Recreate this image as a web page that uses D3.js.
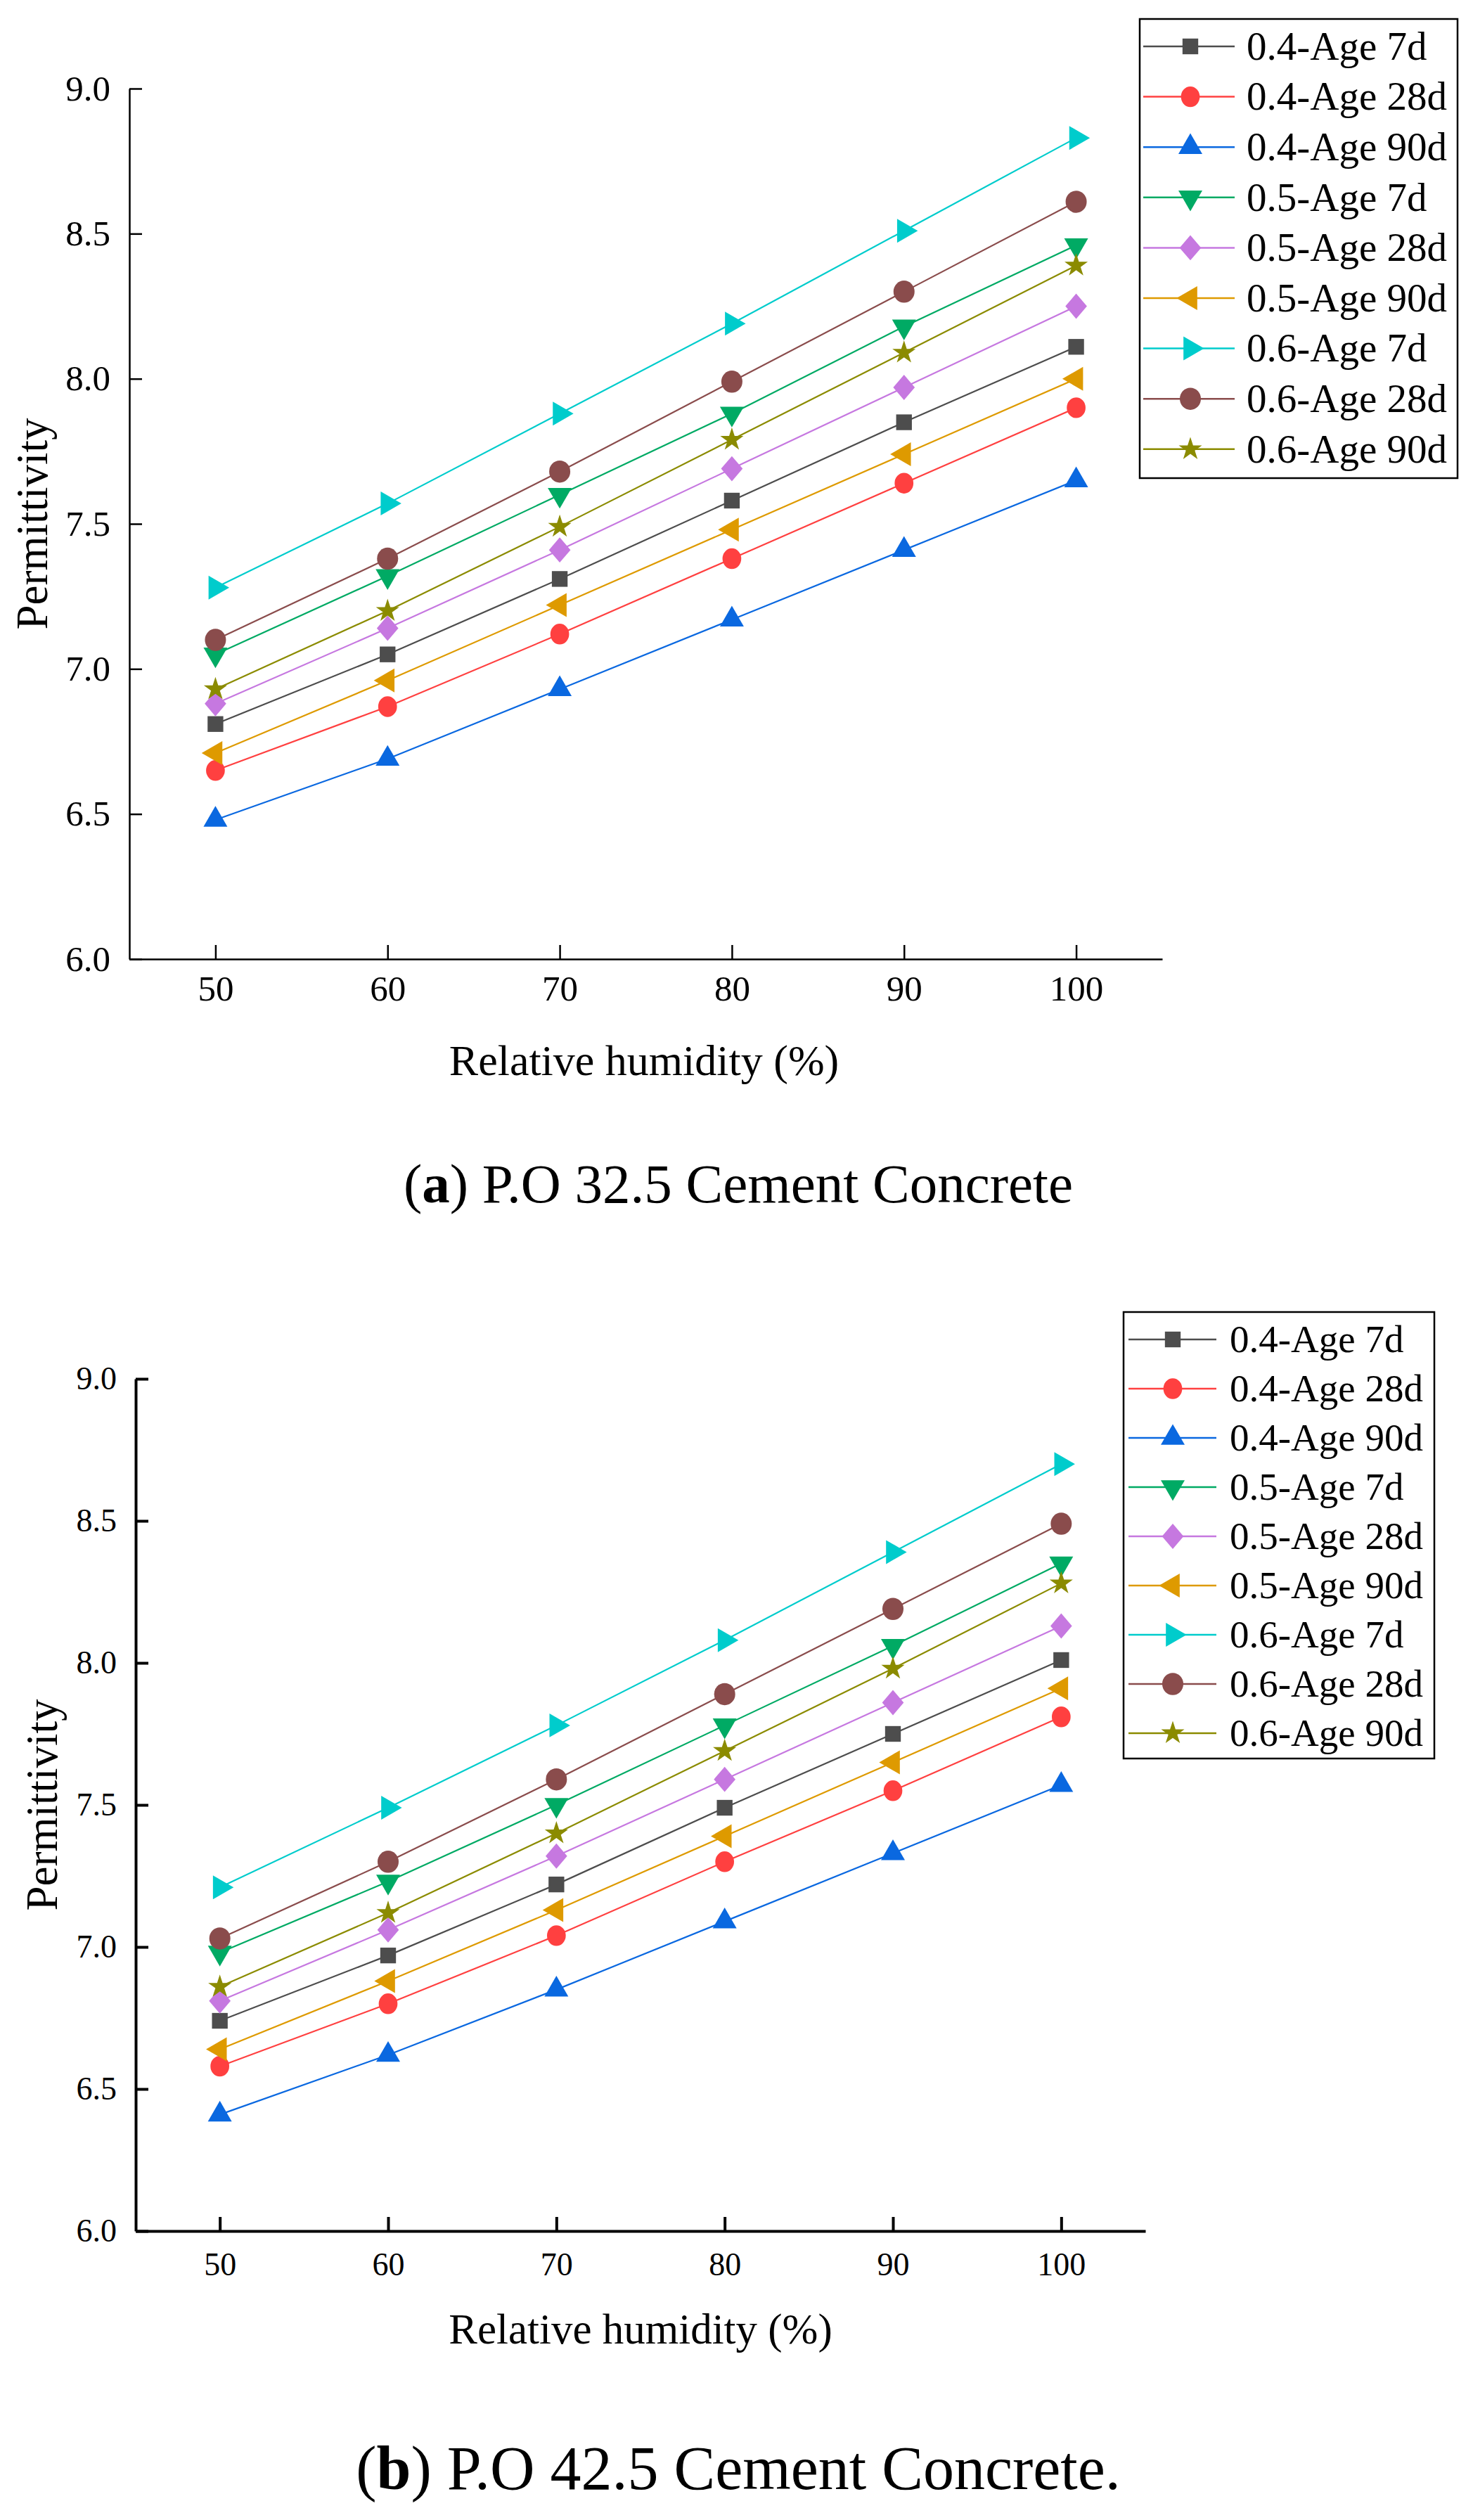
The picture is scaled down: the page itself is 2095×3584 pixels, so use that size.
<!DOCTYPE html>
<html>
<head>
<meta charset="utf-8">
<script src="https://cdn.jsdelivr.net/npm/d3@7"></script>
<style>
  body { margin: 0; background: #fff; }
  svg, svg text { font-family: "Liberation Serif", "DejaVu Serif", serif !important; fill: #000; }
</style>
</head>
<body>
<div id="chart"></div>
<script>
const humidity = [50, 60, 70, 80, 90, 100]
const xTicks = [50, 60, 70, 80, 90, 100]
const yTicks = [6.0, 6.5, 7.0, 7.5, 8.0, 8.5, 9.0]
const seriesLabels = [
  '0.4-Age 7d', '0.4-Age 28d', '0.4-Age 90d',
  '0.5-Age 7d', '0.5-Age 28d', '0.5-Age 90d',
  '0.6-Age 7d', '0.6-Age 28d', '0.6-Age 90d'
]

// (a) P.O 32.5 cement concrete
const a_w04_7d = [6.81, 7.05, 7.31, 7.58, 7.85, 8.11]
const a_w04_28d = [6.65, 6.87, 7.12, 7.38, 7.64, 7.90]
const a_w04_90d = [6.48, 6.69, 6.93, 7.17, 7.41, 7.65]
const a_w05_7d = [7.05, 7.32, 7.60, 7.88, 8.18, 8.46]
const a_w05_28d = [6.88, 7.14, 7.41, 7.69, 7.97, 8.25]
const a_w05_90d = [6.71, 6.96, 7.22, 7.48, 7.74, 8.00]
const a_w06_7d = [7.28, 7.57, 7.88, 8.19, 8.51, 8.83]
const a_w06_28d = [7.10, 7.38, 7.68, 7.99, 8.30, 8.61]
const a_w06_90d = [6.93, 7.20, 7.49, 7.79, 8.09, 8.39]

// (b) P.O 42.5 cement concrete
const b_w04_7d = [6.74, 6.97, 7.22, 7.49, 7.75, 8.01]
const b_w04_28d = [6.58, 6.80, 7.04, 7.30, 7.55, 7.81]
const b_w04_90d = [6.41, 6.62, 6.85, 7.09, 7.33, 7.57]
const b_w05_7d = [6.98, 7.23, 7.50, 7.78, 8.06, 8.35]
const b_w05_28d = [6.81, 7.06, 7.32, 7.59, 7.86, 8.13]
const b_w05_90d = [6.64, 6.88, 7.13, 7.39, 7.65, 7.91]
const b_w06_7d = [7.21, 7.49, 7.78, 8.08, 8.39, 8.70]
const b_w06_28d = [7.03, 7.30, 7.59, 7.89, 8.19, 8.49]
const b_w06_90d = [6.86, 7.12, 7.40, 7.69, 7.98, 8.28]

const colors = ['#4d4d4d', '#ff4040', '#0a68e0', '#00aa64', '#c678e0',
  '#de9a00', '#00cccc', '#8a4c4c', '#8b8b00']

const markers = [
  { type: d3.symbolSquare, size: 500, rotate: 0, sy: 1 },
  { type: d3.symbolCircle, size: 560, rotate: 0, sy: 1.1 },
  { type: d3.symbolTriangle, size: 500, rotate: 0, sy: 1 },
  { type: d3.symbolTriangle, size: 500, rotate: 180, sy: 1 },
  { type: d3.symbolDiamond2, size: 600, rotate: 0, sy: 1.17 },
  { type: d3.symbolTriangle, size: 500, rotate: -90, sy: 1 },
  { type: d3.symbolTriangle, size: 500, rotate: 90, sy: 1 },
  { type: d3.symbolCircle, size: 707, rotate: 0, sy: 1.05 },
  { type: d3.symbolStar, size: 340, rotate: 0, sy: 1 }
]

const panels = [
  {
    values: [a_w04_7d, a_w04_28d, a_w04_90d, a_w05_7d, a_w05_28d, a_w05_90d, a_w06_7d, a_w06_28d, a_w06_90d],
    left: 184, right: 1653, top: 126, bottom: 1364,
    axisWidth: 2.5, tickFont: 51, xPad: 23,
    yTitleX: 67, yTitleY: 745, xTitleX: 916, xTitleY: 1507, titleFont: 62,
    legend: { x0: 1621, y0: 27, x1: 2073, y1: 680, row0: 66, step: 71.6, lx0: 1626, lx1: 1756, mx: 1693, tx: 1773, font: 57 },
    caption: { x: 1050, y: 1684, font: 79, letter: 'a', rest: ') P.O 32.5 Cement Concrete' }
  },
  {
    values: [b_w04_7d, b_w04_28d, b_w04_90d, b_w05_7d, b_w05_28d, b_w05_90d, b_w06_7d, b_w06_28d, b_w06_90d],
    left: 193, right: 1629, top: 1961, bottom: 3173,
    axisWidth: 4, tickFont: 46, xPad: 30,
    yTitleX: 81, yTitleY: 2567, xTitleX: 911, xTitleY: 3312, titleFont: 61,
    legend: { x0: 1598, y0: 1866, x1: 2040, y1: 2501, row0: 1905, step: 70, lx0: 1605, lx1: 1730, mx: 1668, tx: 1749, font: 55 },
    caption: { x: 1050, y: 3511, font: 88, letter: 'b', rest: ') P.O 42.5 Cement Concrete.' }
  }
]

const serif = '"Liberation Serif", "DejaVu Serif", serif'

const svg = d3
  .select('#chart')
  .append('svg')
  .attr('width', 2095)
  .attr('height', 3584)
  .attr('font-family', serif)

svg.append('rect').attr('width', 2095).attr('height', 3584).attr('fill', '#fff')

function markerTransform(m, x, y) {
  return 'translate(' + x + ',' + y + ') rotate(' + m.rotate + ') scale(1,' + m.sy + ')'
}

panels.forEach(function(p) {
  const g = svg.append('g')

  const xPositionScale = d3.scaleLinear().domain([45, 105]).range([p.left, p.right])
  const yPositionScale = d3.scaleLinear().domain([6, 9]).range([p.bottom, p.top])

  // axes, ticks pointing inwards
  const xAxis = d3.axisBottom(xPositionScale)
    .tickValues(xTicks)
    .tickSizeInner(-20)
    .tickSizeOuter(0)
    .tickPadding(p.xPad)
  g.append('g')
    .attr('class', 'axis x-axis')
    .attr('transform', 'translate(0,' + p.bottom + ')')
    .call(xAxis)

  const yAxis = d3.axisLeft(yPositionScale)
    .tickValues(yTicks)
    .tickFormat(d3.format('.1f'))
    .tickSizeInner(-18)
    .tickSizeOuter(0)
    .tickPadding(27)
  g.append('g')
    .attr('class', 'axis y-axis')
    .attr('transform', 'translate(' + p.left + ',0)')
    .call(yAxis)

  g.selectAll('.axis').attr('font-family', serif).attr('font-size', null)
  g.selectAll('.axis path, .axis line')
    .attr('stroke', '#000')
    .attr('stroke-width', p.axisWidth)
  g.selectAll('.axis text')
    .attr('font-size', p.tickFont)
    .attr('font-family', serif)
    .attr('fill', '#000')

  // series
  const line = d3.line()
    .x((d, i) => xPositionScale(humidity[i]))
    .y(d => yPositionScale(d))

  p.values.forEach(function(vals, k) {
    g.append('path')
      .datum(vals)
      .attr('d', line)
      .attr('fill', 'none')
      .attr('stroke', colors[k])
      .attr('stroke-width', 2.2)
  })

  p.values.forEach(function(vals, k) {
    const m = markers[k]
    g.selectAll('.mk' + k)
      .data(vals)
      .enter()
      .append('path')
      .attr('class', 'mk' + k)
      .attr('d', d3.symbol(m.type, m.size))
      .attr('transform', (d, i) => markerTransform(m, xPositionScale(humidity[i]), yPositionScale(d)))
      .attr('fill', colors[k])
  })

  // axis titles
  g.append('text')
    .text('Relative humidity (%)')
    .attr('x', p.xTitleX)
    .attr('y', p.xTitleY)
    .attr('dy', '0.35em')
    .attr('text-anchor', 'middle')
    .attr('font-family', serif)
    .attr('font-size', p.titleFont)

  g.append('text')
    .text('Permittivity')
    .attr('transform', 'translate(' + p.yTitleX + ',' + p.yTitleY + ') rotate(-90)')
    .attr('text-anchor', 'middle')
    .attr('font-family', serif)
    .attr('font-size', 63)

  // legend
  const L = p.legend
  g.append('rect')
    .attr('x', L.x0)
    .attr('y', L.y0)
    .attr('width', L.x1 - L.x0)
    .attr('height', L.y1 - L.y0)
    .attr('fill', '#fff')
    .attr('stroke', '#000')
    .attr('stroke-width', 2.5)

  seriesLabels.forEach(function(label, k) {
    const y = L.row0 + k * L.step
    const m = markers[k]
    g.append('line')
      .attr('x1', L.lx0).attr('x2', L.lx1)
      .attr('y1', y).attr('y2', y)
      .attr('stroke', colors[k])
      .attr('stroke-width', 2.5)
    g.append('path')
      .attr('d', d3.symbol(m.type, m.size)())
      .attr('transform', markerTransform(m, L.mx, y))
      .attr('fill', colors[k])
    g.append('text')
      .text(label)
      .attr('x', L.tx)
      .attr('y', y)
      .attr('dy', '0.33em')
      .attr('font-family', serif)
      .attr('font-size', L.font)
  })

  // caption
  const cap = g.append('text')
    .attr('x', p.caption.x)
    .attr('y', p.caption.y)
    .attr('dy', '0.33em')
    .attr('text-anchor', 'middle')
    .attr('font-family', serif)
    .attr('font-size', p.caption.font)
  cap.append('tspan').text('(')
  cap.append('tspan').text(p.caption.letter).attr('font-weight', 'bold')
  cap.append('tspan').text(p.caption.rest)
})
</script>
</body>
</html>
